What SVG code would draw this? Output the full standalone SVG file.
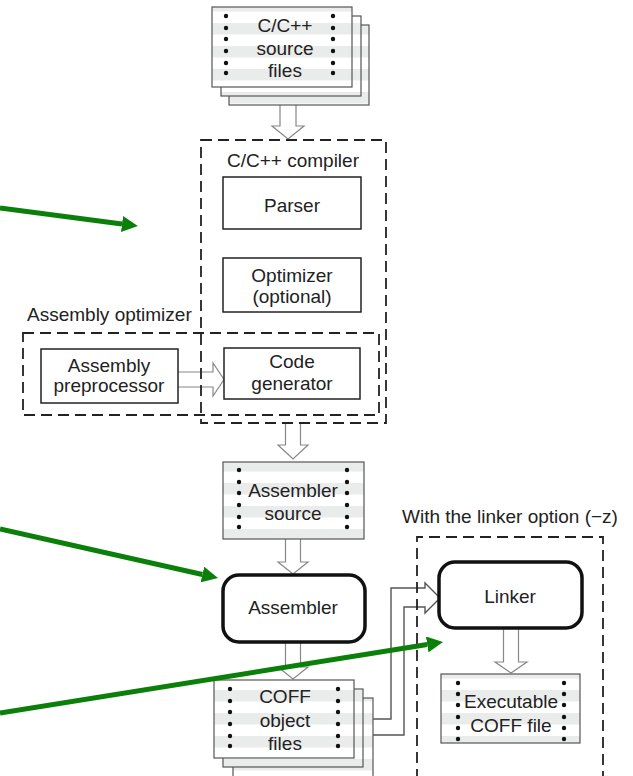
<svg xmlns="http://www.w3.org/2000/svg" width="633" height="776" viewBox="0 0 633 776">
  <defs>
    <style>
      text { font-family: "Liberation Sans", Arial, sans-serif; font-size: 19px; fill: #222; }
      .c { text-anchor: middle; }
      .box { fill: #fff; stroke: #222; stroke-width: 1.5; }
      .tool { fill: #fff; stroke: #111; stroke-width: 3.5; }
      .group { fill: none; stroke: #222; stroke-width: 1.8; stroke-dasharray: 11 6; }
      .sheet { fill: url(#stripes); stroke: #555; stroke-width: 1.2; }
      .dot { fill: #111; }
      .flow { fill: #fff; stroke: #888; stroke-width: 1.2; }
      .link { fill: none; stroke: #555; stroke-width: 1.4; }
      .note { fill: none; stroke: #0a800a; stroke-width: 5; marker-end: url(#head); }
    </style>
    <pattern id="stripes" patternUnits="userSpaceOnUse" width="10" height="23">
      <rect width="10" height="23" fill="#fff"/>
      <rect width="10" height="11.5" fill="#eaebeb"/>
    </pattern>
    <marker id="head" viewBox="0 0 16 16" markerWidth="16" markerHeight="16" markerUnits="userSpaceOnUse" refX="0" refY="8" orient="auto">
      <path d="M0,0 L16,8 L0,16 z" fill="#0a800a"/>
    </marker>
  </defs>

  <!-- hollow flow arrows and the linker feed -->
  <g id="connectors">
    <path class="flow" d="M280,105 V126 H272 L288,139 L304,126 H296 V105"/>
    <path class="flow" d="M178,372 H213 V363 L224,379.5 L213,396 V387 H178"/>
    <path class="flow" d="M285.5,424 V445 H278 L293,459 L308,445 H300.5 V424"/>
    <path class="flow" d="M285.5,539 V562 H278 L293,574 L308,562 H300.5 V539"/>
    <path class="flow" d="M285.5,643 V667 H278 L293,679 L308,667 H300.5 V643"/>
    <path class="flow" d="M503.5,629 V662 H495 L511,673 L527,662 H518.5 V629"/>
    <path class="link" d="M363,719 H391 V588 H425 V583 L440,598 L425,613 V607 H404 V735 H373"/>
  </g>

  <!-- source files stack -->
  <g id="source-files">
    <rect class="sheet" x="229" y="25" width="140" height="80"/>
    <rect class="sheet" x="221" y="16" width="140" height="80"/>
    <rect class="sheet" x="212" y="7" width="140" height="80"/>
    <g class="dot">
      <circle cx="226" cy="16" r="2.2"/><circle cx="226" cy="28" r="2.2"/><circle cx="226" cy="39" r="2.2"/>
      <circle cx="226" cy="51" r="2.2"/><circle cx="226" cy="63" r="2.2"/><circle cx="226" cy="73" r="2.2"/>
      <circle cx="333" cy="16" r="2.2"/><circle cx="333" cy="28" r="2.2"/><circle cx="333" cy="39" r="2.2"/>
      <circle cx="333" cy="51" r="2.2"/><circle cx="333" cy="63" r="2.2"/><circle cx="333" cy="73" r="2.2"/>
    </g>
    <text class="c" x="285" y="32">C/C++</text>
    <text class="c" x="285" y="55">source</text>
    <text class="c" x="285" y="77">files</text>
  </g>

  <!-- compiler group -->
  <g id="compiler">
    <rect class="group" x="201" y="140" width="185" height="283"/>
    <text class="c" x="293" y="167">C/C++ compiler</text>
  </g>
  <g id="parser">
    <rect class="box" x="223" y="177" width="138" height="52"/>
    <text class="c" x="292" y="212">Parser</text>
  </g>
  <g id="optimizer">
    <rect class="box" x="223" y="258" width="138" height="54"/>
    <text class="c" x="292" y="282">Optimizer</text>
    <text class="c" x="292" y="303">(optional)</text>
  </g>

  <!-- assembly optimizer group -->
  <g id="assembly-optimizer">
    <rect class="group" x="23" y="333" width="356" height="82"/>
    <text x="27" y="321">Assembly optimizer</text>
  </g>
  <g id="preprocessor">
    <rect class="box" x="41" y="349" width="137" height="54"/>
    <text class="c" x="109" y="372">Assembly</text>
    <text class="c" x="109" y="392">preprocessor</text>
  </g>
  <g id="code-generator">
    <rect class="box" x="224" y="348" width="136" height="51"/>
    <text class="c" x="292" y="368">Code</text>
    <text class="c" x="292" y="390">generator</text>
  </g>

  <!-- assembler source file -->
  <g id="assembler-source">
    <rect class="sheet" x="223" y="462" width="141" height="77"/>
    <g class="dot">
      <circle cx="239" cy="470" r="2.2"/><circle cx="239" cy="482" r="2.2"/><circle cx="239" cy="493" r="2.2"/>
      <circle cx="239" cy="505" r="2.2"/><circle cx="239" cy="517" r="2.2"/><circle cx="239" cy="527" r="2.2"/>
      <circle cx="347" cy="470" r="2.2"/><circle cx="347" cy="482" r="2.2"/><circle cx="347" cy="493" r="2.2"/>
      <circle cx="347" cy="505" r="2.2"/><circle cx="347" cy="517" r="2.2"/><circle cx="347" cy="527" r="2.2"/>
    </g>
    <text class="c" x="293" y="497">Assembler</text>
    <text class="c" x="293" y="520">source</text>
  </g>

  <g id="assembler">
    <rect class="tool" x="223" y="575" width="142" height="67" rx="16"/>
    <text class="c" x="293" y="614">Assembler</text>
  </g>

  <!-- object files stack -->
  <g id="coff-object-files">
    <rect class="sheet" x="233" y="698" width="140" height="90"/>
    <rect class="sheet" x="223" y="689" width="140" height="78"/>
    <rect class="sheet" x="214" y="680" width="140" height="78"/>
    <g class="dot">
      <circle cx="230" cy="689" r="2.2"/><circle cx="230" cy="701" r="2.2"/><circle cx="230" cy="712" r="2.2"/>
      <circle cx="230" cy="724" r="2.2"/><circle cx="230" cy="736" r="2.2"/><circle cx="230" cy="746" r="2.2"/>
      <circle cx="338" cy="689" r="2.2"/><circle cx="338" cy="701" r="2.2"/><circle cx="338" cy="712" r="2.2"/>
      <circle cx="338" cy="724" r="2.2"/><circle cx="338" cy="736" r="2.2"/><circle cx="338" cy="746" r="2.2"/>
    </g>
    <text class="c" x="285" y="703">COFF</text>
    <text class="c" x="285" y="727">object</text>
    <text class="c" x="285" y="750">files</text>
  </g>

  <!-- linker group -->
  <g id="linker-option">
    <path class="group" d="M417,780 V537 H603 V780"/>
    <text x="402" y="523">With the linker option (−z)</text>
  </g>
  <g id="linker">
    <rect class="tool" x="439" y="562" width="143" height="66" rx="16"/>
    <text class="c" x="510" y="603">Linker</text>
  </g>
  <g id="executable">
    <rect class="sheet" x="441" y="674" width="139" height="69"/>
    <g class="dot">
      <circle cx="458" cy="683" r="2.2"/><circle cx="458" cy="694" r="2.2"/><circle cx="458" cy="705" r="2.2"/>
      <circle cx="458" cy="717" r="2.2"/><circle cx="458" cy="728" r="2.2"/><circle cx="458" cy="739" r="2.2"/>
      <circle cx="564" cy="683" r="2.2"/><circle cx="564" cy="694" r="2.2"/><circle cx="564" cy="705" r="2.2"/>
      <circle cx="564" cy="717" r="2.2"/><circle cx="564" cy="728" r="2.2"/><circle cx="564" cy="739" r="2.2"/>
    </g>
    <text class="c" x="511" y="708">Executable</text>
    <text class="c" x="511" y="732">COFF file</text>
  </g>

  <!-- green pointer arrows -->
  <g id="pointers">
    <line class="note" x1="0" y1="208" x2="122" y2="224"/>
    <line class="note" x1="0" y1="529" x2="202.4" y2="574.5"/>
    <line class="note" x1="0" y1="713" x2="427.2" y2="644.5"/>
  </g>
</svg>
